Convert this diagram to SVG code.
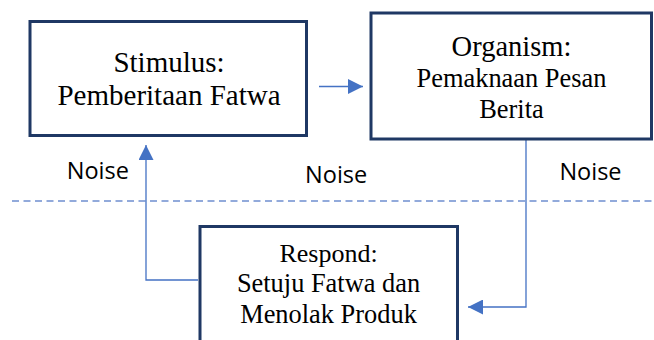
<svg xmlns="http://www.w3.org/2000/svg" width="654" height="340" viewBox="0 0 654 340">
  <defs>
    <style>
      .box { fill: #ffffff; stroke: #1f3864; stroke-width: 3; }
      .serif { font-family: "Liberation Serif", "Times New Roman", serif; fill: #000000; text-anchor: middle; }
      .noise { font-family: "Open Sans", "Noto Sans", sans-serif; font-size: 23.5px; fill: #000000; text-anchor: middle; }
      .conn { fill: none; stroke: #4472c4; stroke-width: 1.3; }
      .dash { fill: none; stroke: #6f8fd0; stroke-width: 1.3; stroke-dasharray: 7 4.5; }
    </style>
    <marker id="arrow" viewBox="0 0 15 15" refX="15" refY="7.5" markerWidth="15" markerHeight="15" markerUnits="userSpaceOnUse" orient="auto">
      <path d="M0,0 L15,7.5 L0,15 Z" fill="#4472c4"/>
    </marker>
  </defs>
  <rect width="654" height="340" fill="#ffffff"/>

  <g id="separator">
    <line class="dash" x1="12" y1="201" x2="654" y2="201"/>
  </g>

  <g id="connectors">
    <line class="conn" x1="319" y1="86.5" x2="363" y2="86.5" marker-end="url(#arrow)"/>
    <path class="conn" d="M198,280 H146 V145" marker-end="url(#arrow)"/>
    <path class="conn" d="M526,135 V307 H468" marker-end="url(#arrow)"/>
  </g>

  <g id="stimulus">
    <rect class="box" x="30" y="21.5" width="276.5" height="114"/>
    <text class="serif" x="169" y="72.3" font-size="29">Stimulus:</text>
    <text class="serif" x="169" y="105" font-size="29">Pemberitaan Fatwa</text>
  </g>

  <g id="organism">
    <rect class="box" x="371" y="13" width="280.5" height="126"/>
    <text class="serif" x="511.5" y="56" font-size="28.5">Organism:</text>
    <text class="serif" x="511.5" y="87.3" font-size="26.4">Pemaknaan Pesan</text>
    <text class="serif" x="511.5" y="118.3" font-size="26.4">Berita</text>
  </g>

  <g id="respond">
    <rect class="box" x="200" y="226.5" width="257.5" height="130"/>
    <text class="serif" x="328.5" y="261.7" font-size="26">Respond:</text>
    <text class="serif" x="328.5" y="292.3" font-size="26.4">Setuju Fatwa dan</text>
    <text class="serif" x="328.5" y="322.7" font-size="26.4">Menolak Produk</text>
  </g>

  <g id="noise-labels">
    <text class="noise" x="97.8" y="179.3">Noise</text>
    <text class="noise" x="336.2" y="183.3">Noise</text>
    <text class="noise" x="590.5" y="180">Noise</text>
  </g>
</svg>
